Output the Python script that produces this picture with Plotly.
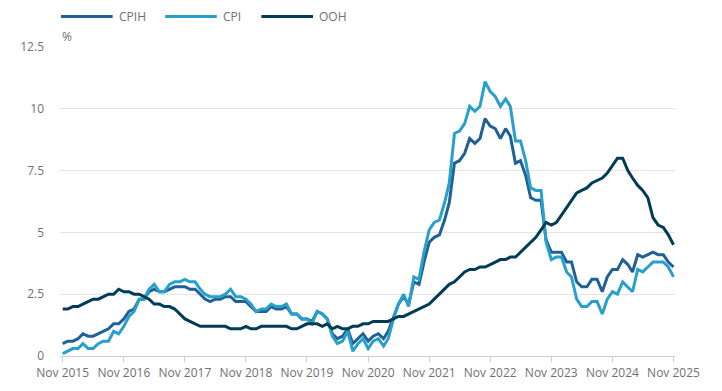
import plotly.graph_objects as go
import pandas as pd

# Monthly categories, Nov 2015 to Nov 2025
months = pd.date_range("2015-11-01", "2025-11-01", freq="MS").strftime("%Y-%m-%d").tolist()

cpih = [
    0.5, 0.6,
    0.6, 0.7, 0.9, 0.8, 0.8, 0.9, 1.0, 1.1, 1.3, 1.3, 1.5, 1.8,
    1.9, 2.3, 2.3, 2.6, 2.7, 2.6, 2.6, 2.7, 2.8, 2.8, 2.8, 2.7,
    2.7, 2.5, 2.3, 2.2, 2.3, 2.3, 2.4, 2.4, 2.2, 2.2, 2.2, 2.0,
    1.8, 1.8, 1.8, 2.0, 1.9, 1.9, 2.0, 1.7, 1.7, 1.5, 1.5, 1.4,
    1.8, 1.7, 1.5, 0.9, 0.7, 0.8, 1.1, 0.5, 0.7, 0.9, 0.6, 0.8,
    0.9, 0.7, 1.0, 1.6, 2.1, 2.4, 2.1, 3.0, 2.9, 3.8, 4.6, 4.8,
    4.9, 5.5, 6.2, 7.8, 7.9, 8.2, 8.8, 8.6, 8.8, 9.6, 9.3, 9.2,
    8.8, 9.2, 8.9, 7.8, 7.9, 7.3, 6.4, 6.3, 6.3, 4.7, 4.2, 4.2,
    4.2, 3.8, 3.8, 3.0, 2.8, 2.8, 3.1, 3.1, 2.6, 3.2, 3.5, 3.5,
    3.9, 3.7, 3.4, 4.1, 4.0, 4.1, 4.2, 4.1, 4.1, 3.8, 3.6,
]

cpi = [
    0.1, 0.2,
    0.3, 0.3, 0.5, 0.3, 0.3, 0.5, 0.6, 0.6, 1.0, 0.9, 1.2, 1.6,
    1.8, 2.3, 2.3, 2.7, 2.9, 2.6, 2.6, 2.9, 3.0, 3.0, 3.1, 3.0,
    3.0, 2.7, 2.5, 2.4, 2.4, 2.4, 2.5, 2.7, 2.4, 2.4, 2.3, 2.1,
    1.8, 1.9, 1.9, 2.1, 2.0, 2.0, 2.1, 1.7, 1.7, 1.5, 1.5, 1.3,
    1.8, 1.7, 1.5, 0.8, 0.5, 0.6, 1.0, 0.2, 0.5, 0.7, 0.3, 0.6,
    0.7, 0.4, 0.7, 1.5, 2.1, 2.5, 2.0, 3.2, 3.1, 4.2, 5.1, 5.4,
    5.5, 6.2, 7.0, 9.0, 9.1, 9.4, 10.1, 9.9, 10.1, 11.1, 10.7, 10.5,
    10.1, 10.4, 10.1, 8.7, 8.7, 7.9, 6.8, 6.7, 6.7, 4.6, 3.9, 4.0,
    4.0, 3.4, 3.2, 2.3, 2.0, 2.0, 2.2, 2.2, 1.7, 2.3, 2.6, 2.5,
    3.0, 2.8, 2.6, 3.5, 3.4, 3.6, 3.8, 3.8, 3.8, 3.6, 3.2,
]

ooh = [
    1.9, 1.9,
    2.0, 2.0, 2.1, 2.2, 2.3, 2.3, 2.4, 2.5, 2.5, 2.7, 2.6, 2.6,
    2.5, 2.5, 2.4, 2.3, 2.1, 2.1, 2.0, 2.0, 1.9, 1.7, 1.5, 1.4,
    1.3, 1.2, 1.2, 1.2, 1.2, 1.2, 1.2, 1.1, 1.1, 1.1, 1.2, 1.1,
    1.1, 1.2, 1.2, 1.2, 1.2, 1.2, 1.2, 1.1, 1.1, 1.2, 1.3, 1.3,
    1.3, 1.2, 1.3, 1.1, 1.2, 1.1, 1.1, 1.2, 1.2, 1.3, 1.3, 1.4,
    1.4, 1.4, 1.4, 1.5, 1.6, 1.6, 1.7, 1.8, 1.9, 2.0, 2.1, 2.3,
    2.5, 2.7, 2.9, 3.0, 3.2, 3.4, 3.5, 3.5, 3.6, 3.6, 3.7, 3.8,
    3.9, 3.9, 4.0, 4.0, 4.2, 4.4, 4.6, 4.8, 5.1, 5.4, 5.3, 5.4,
    5.7, 6.0, 6.3, 6.6, 6.7, 6.8, 7.0, 7.1, 7.2, 7.4, 7.7, 8.0,
    8.0, 7.5, 7.2, 6.9, 6.7, 6.4, 5.6, 5.3, 5.2, 4.9, 4.5,
]

tick_vals = ["2015-11-01", "2016-11-01", "2017-11-01", "2018-11-01", "2019-11-01",
             "2020-11-01", "2021-11-01", "2022-11-01", "2023-11-01", "2024-11-01",
             "2025-11-01"]
tick_text = ["Nov 2015", "Nov 2016", "Nov 2017", "Nov 2018", "Nov 2019",
             "Nov 2020", "Nov 2021", "Nov 2022", "Nov 2023", "Nov 2024",
             "Nov 2025"]
y_ticks = [0, 2.5, 5, 7.5, 10, 12.5]
y_text = ["0", "2.5", "5", "7.5", "10", "12.5"]

series = [("CPIH", cpih, "#206095"), ("CPI", cpi, "#27a0cc"), ("OOH", ooh, "#003c57")]

# custom legend layout (paper coordinates): start of each legend key
legend_x = [0.0016, 0.171, 0.3274]
legend_key_len = 0.084
legend_text_gap = 0.0083
legend_y = 1.0987

grey = "#707070"
fig = go.Figure()
shapes = []
annotations = [dict(text="%", xref="paper", yref="paper", x=0, y=1.0,
                    xanchor="left", yanchor="bottom", showarrow=False,
                    font=dict(size=12, color=grey))]
for (name, vals, col), lx in zip(series, legend_x):
    fig.add_trace(go.Scatter(x=months, y=vals, name=name, mode="lines",
                             line=dict(color=col, width=3), showlegend=False))
    shapes.append(dict(type="line", xref="paper", yref="paper",
                       x0=lx, x1=lx + legend_key_len, y0=legend_y, y1=legend_y,
                       line=dict(color=col, width=3)))
    annotations.append(dict(text=name, xref="paper", yref="paper",
                            x=lx + legend_key_len + legend_text_gap, y=legend_y,
                            xanchor="left", yanchor="middle", showarrow=False,
                            borderpad=0,
                            font=dict(size=12, color=grey)))

fig.update_layout(
    width=722, height=391,
    margin=dict(l=47, r=55, t=39, b=43),
    paper_bgcolor="white", plot_bgcolor="white",
    font=dict(family="Open Sans", size=12, color=grey),
    showlegend=False,
    xaxis=dict(type="date", range=["2015-10-16", "2025-11-10"],
               tickvals=tick_vals, ticktext=tick_text,
               showgrid=False, showline=True, linecolor="#c8d0d8", linewidth=1,
               ticks="outside", ticklen=5, tickcolor="#c8d0d8",
               ticklabelstandoff=1,
               tickfont=dict(size=12, color=grey), zeroline=False),
    yaxis=dict(range=[0, 12.5], tickvals=y_ticks, ticktext=y_text,
               showgrid=True, gridcolor="#e4e4e4", gridwidth=1,
               zeroline=False, showline=False, ticks="",
               ticklabelstandoff=15,
               tickfont=dict(size=12, color=grey)),
    shapes=shapes,
    annotations=annotations,
)

fig.write_html("out.html")
